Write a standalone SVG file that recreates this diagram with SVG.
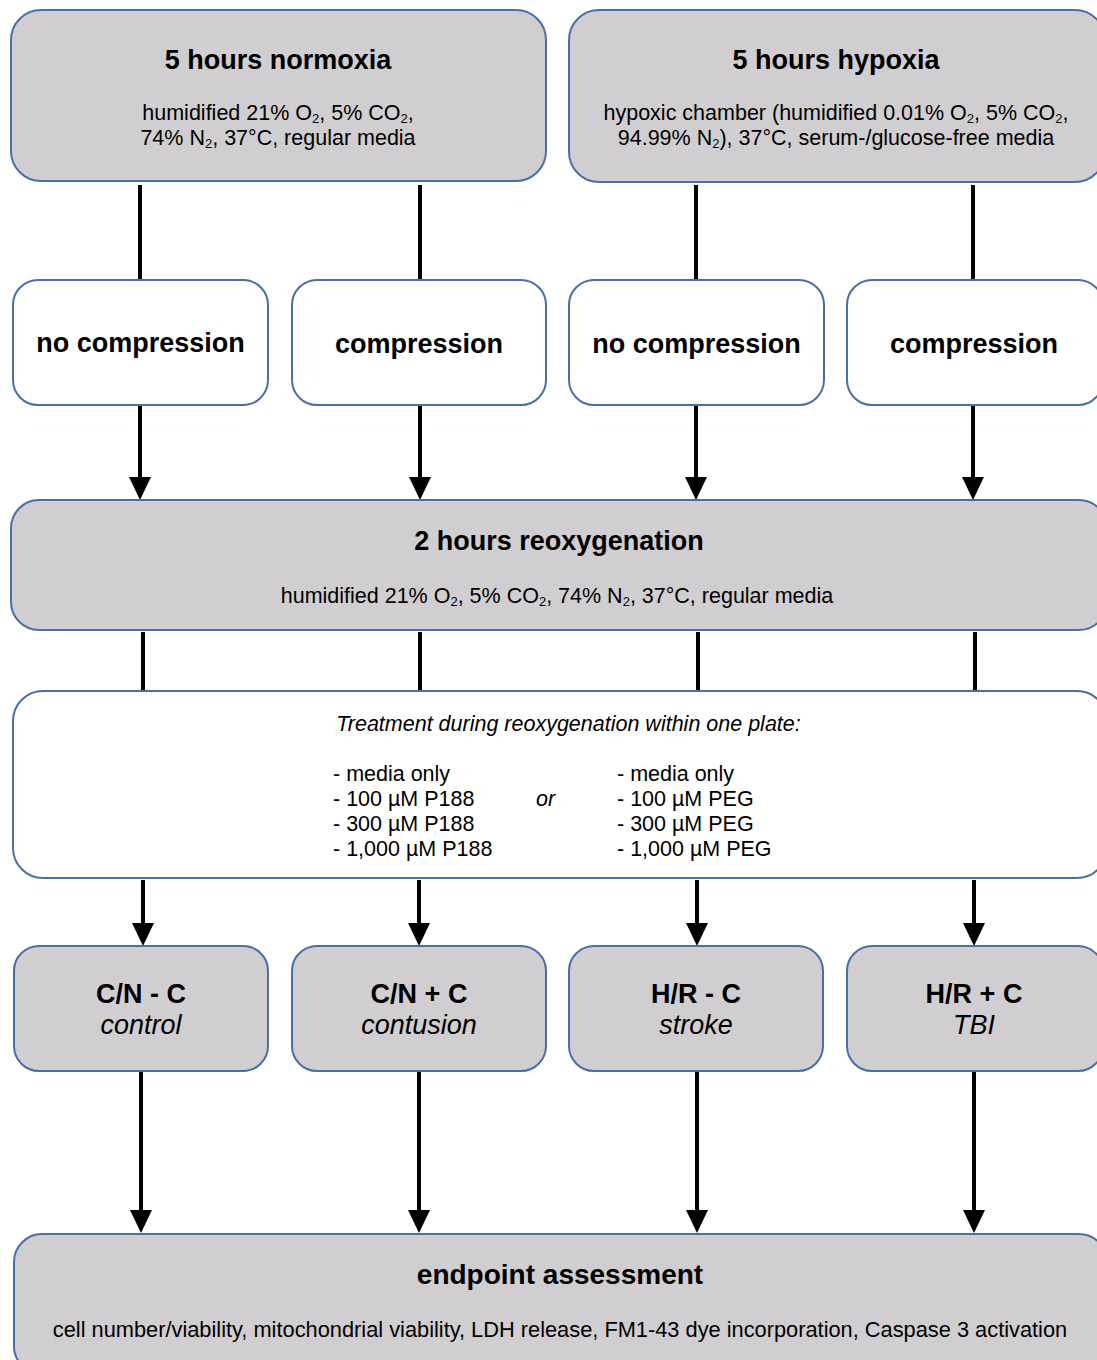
<svg xmlns="http://www.w3.org/2000/svg" width="1097" height="1360" viewBox="0 0 1097 1360">
<style>
.g{fill:#d0ced0;stroke:#4a6ea8;stroke-width:2}
.w{fill:#ffffff;stroke:#4a6ea8;stroke-width:2}
text{font-family:"Liberation Sans",Arial,sans-serif;fill:#000}
.t{font-size:27px;font-weight:bold;text-anchor:middle}
.s{font-size:21.5px;text-anchor:middle}
.l{font-size:21.5px}
.i{font-style:italic}
.sub{font-size:13px;baseline-shift:-2.5px}
.c line{stroke:#000;stroke-width:4}
</style>
<rect width="1097" height="1360" fill="#fff"/>
<g class="c" id="connectors">
<line x1="140" y1="185" x2="140" y2="280"/>
<line x1="420" y1="185" x2="420" y2="280"/>
<line x1="696" y1="185" x2="696" y2="280"/>
<line x1="973" y1="185" x2="973" y2="280"/>
<line x1="140" y1="406" x2="140" y2="478"/>
<path d="M129,477 L151,477 L140,500 Z"/>
<line x1="420" y1="406" x2="420" y2="478"/>
<path d="M409,477 L431,477 L420,500 Z"/>
<line x1="696" y1="406" x2="696" y2="478"/>
<path d="M685,477 L707,477 L696,500 Z"/>
<line x1="973" y1="406" x2="973" y2="478"/>
<path d="M962,477 L984,477 L973,500 Z"/>
<line x1="143" y1="632" x2="143" y2="691"/>
<line x1="420" y1="632" x2="420" y2="691"/>
<line x1="698" y1="632" x2="698" y2="691"/>
<line x1="975" y1="632" x2="975" y2="691"/>
<line x1="143" y1="880" x2="143" y2="924"/>
<path d="M132,923 L154,923 L143,946 Z"/>
<line x1="419" y1="880" x2="419" y2="924"/>
<path d="M408,923 L430,923 L419,946 Z"/>
<line x1="697" y1="880" x2="697" y2="924"/>
<path d="M686,923 L708,923 L697,946 Z"/>
<line x1="974" y1="880" x2="974" y2="924"/>
<path d="M963,923 L985,923 L974,946 Z"/>
<line x1="141" y1="1072" x2="141" y2="1211"/>
<path d="M130,1210 L152,1210 L141,1233 Z"/>
<line x1="419" y1="1072" x2="419" y2="1211"/>
<path d="M408,1210 L430,1210 L419,1233 Z"/>
<line x1="697" y1="1072" x2="697" y2="1211"/>
<path d="M686,1210 L708,1210 L697,1233 Z"/>
<line x1="974" y1="1072" x2="974" y2="1211"/>
<path d="M963,1210 L985,1210 L974,1233 Z"/>
</g>
<g id="normoxia">
<rect class="g" x="11" y="10" width="535" height="171" rx="30"/>
<text class="t" x="278" y="69">5 hours normoxia</text>
<text class="s" x="278" y="120">humidified 21% O<tspan class="sub">2</tspan>, 5% CO<tspan class="sub">2</tspan>,</text>
<text class="s" x="278" y="145">74% N<tspan class="sub">2</tspan>, 37°C, regular media</text>
</g>
<g id="hypoxia">
<rect class="g" x="569" y="10" width="536" height="172" rx="30"/>
<text class="t" x="836" y="69">5 hours hypoxia</text>
<text class="s" x="836" y="120">hypoxic chamber (humidified 0.01% O<tspan class="sub">2</tspan>, 5% CO<tspan class="sub">2</tspan>,</text>
<text class="s" x="836" y="145">94.99% N<tspan class="sub">2</tspan>), 37°C, serum-/glucose-free  media</text>
</g>
<g id="nocomp1">
<rect class="w" x="13" y="280" width="255" height="125" rx="25"/>
<text class="t" x="140.5" y="352">no compression</text>
</g>
<g id="comp1">
<rect class="w" x="292" y="280" width="254" height="125" rx="25"/>
<text class="t" x="419" y="353">compression</text>
</g>
<g id="nocomp2">
<rect class="w" x="569" y="280" width="255" height="125" rx="25"/>
<text class="t" x="696.5" y="353">no compression</text>
</g>
<g id="comp2">
<rect class="w" x="847" y="280" width="256" height="125" rx="25"/>
<text class="t" x="974" y="353">compression</text>
</g>
<g id="reoxygenation">
<rect class="g" x="11" y="500" width="1096" height="130" rx="28"/>
<text class="t" x="559" y="550">2 hours reoxygenation</text>
<text class="s" x="557" y="603">humidified 21% O<tspan class="sub">2</tspan>, 5% CO<tspan class="sub">2</tspan>, 74% N<tspan class="sub">2</tspan>, 37°C, regular media</text>
</g>
<g id="treatment">
<rect class="w" x="13" y="691" width="1094" height="187" rx="30"/>
<text class="s i" x="568.5" y="731">Treatment during reoxygenation within one plate:</text>
<text class="l" x="333" y="781">- media only</text>
<text class="l" x="333" y="806">- 100 µM P188</text>
<text class="l" x="333" y="831">- 300 µM P188</text>
<text class="l" x="333" y="856">- 1,000 µM P188</text>
<text class="l i" x="536" y="806">or</text>
<text class="l" x="617" y="781">- media only</text>
<text class="l" x="617" y="806">- 100 µM PEG</text>
<text class="l" x="617" y="831">- 300 µM PEG</text>
<text class="l" x="617" y="856">- 1,000 µM PEG</text>
</g>
<g id="cn-c">
<rect class="g" x="14" y="946" width="254" height="125" rx="25"/>
<text class="t" x="141" y="1003">C/N - C</text>
<text class="t i" x="141" y="1034" style="font-weight:normal">control</text>
</g>
<g id="cn+c">
<rect class="g" x="292" y="946" width="254" height="125" rx="25"/>
<text class="t" x="419" y="1003">C/N + C</text>
<text class="t i" x="419" y="1034" style="font-weight:normal">contusion</text>
</g>
<g id="hr-c">
<rect class="g" x="569" y="946" width="254" height="125" rx="25"/>
<text class="t" x="696" y="1003">H/R - C</text>
<text class="t i" x="696" y="1034" style="font-weight:normal">stroke</text>
</g>
<g id="hr+c">
<rect class="g" x="847" y="946" width="256" height="125" rx="25"/>
<text class="t" x="974" y="1003">H/R + C</text>
<text class="t i" x="974" y="1034" style="font-weight:normal">TBI</text>
</g>
<g id="endpoint">
<rect class="g" x="14" y="1234" width="1093" height="140" rx="28"/>
<text class="t" x="560" y="1284" style="font-size:28px">endpoint assessment</text>
<text class="s" x="560" y="1337" style="font-size:21.8px">cell number/viability, mitochondrial viability, LDH release, FM1-43 dye incorporation, Caspase 3 activation</text>
</g>
</svg>
